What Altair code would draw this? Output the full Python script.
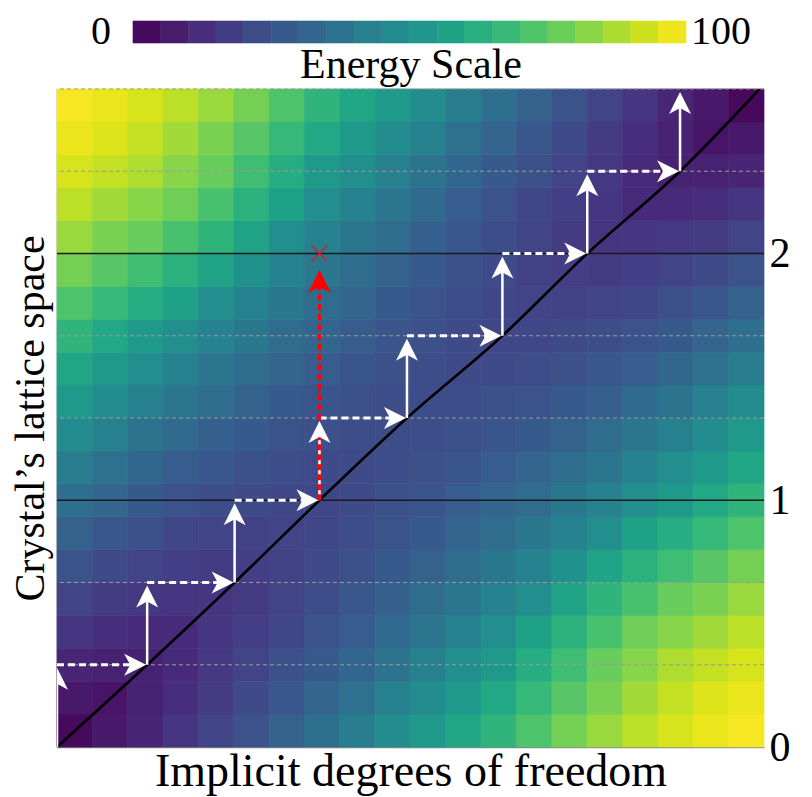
import altair as alt
import pandas as pd

# ---------------- data ----------------
L = 8 / 3  # both axes run from 0 to 8/3
levels = [0, 1/3, 2/3, 1, 4/3, 5/3, 2, 7/3, 8/3]              # y of the staircase levels
curve_x = [0.0, 0.34, 0.67, 0.99, 1.32, 1.68, 2.0, 2.35, 2.65]  # x where the black curve meets each level
minor_levels = [1/3, 2/3, 4/3, 5/3, 7/3, 8/3]                  # grey dashed lines
major_levels = [1, 2]                                          # black solid lines
right_ticks = [0, 1, 2]
red_step = 3                                                   # index of the red (failed) jump: from level 1 to 2
cbar_edges = [0, 5, 10, 15, 20, 25, 30, 35, 40, 45, 50, 55, 60, 65, 70, 75, 80, 85, 90, 95, 100]

# energy field, 20 x 20 cells, first row = bottom of the plot
energy_rows = [
    [2, 6, 10, 15, 20, 25, 31, 36, 42, 48, 54, 59, 65, 72, 79, 85, 90, 94, 97, 99],
    [6, 5, 9, 13, 17, 22, 27, 32, 37, 43, 48, 54, 60, 67, 74, 80, 86, 91, 95, 97],
    [10, 9, 9, 12, 16, 20, 24, 28, 33, 38, 43, 49, 54, 62, 69, 77, 82, 88, 91, 94],
    [15, 13, 12, 12, 15, 18, 21, 25, 29, 34, 39, 44, 49, 57, 64, 71, 78, 82, 86, 90],
    [20, 17, 16, 15, 15, 17, 20, 23, 27, 30, 35, 39, 44, 49, 58, 65, 71, 77, 80, 85],
    [25, 22, 20, 18, 17, 18, 19, 22, 24, 28, 31, 35, 40, 44, 50, 58, 64, 69, 74, 79],
    [31, 27, 24, 21, 20, 19, 20, 21, 23, 25, 28, 32, 35, 40, 44, 49, 57, 62, 67, 72],
    [36, 32, 28, 25, 23, 22, 21, 21, 22, 24, 26, 29, 32, 35, 40, 44, 49, 54, 60, 65],
    [42, 37, 33, 29, 27, 24, 23, 22, 22, 23, 24, 26, 29, 32, 35, 39, 44, 49, 54, 59],
    [48, 43, 38, 34, 30, 28, 25, 24, 23, 23, 23, 24, 26, 28, 31, 35, 39, 43, 48, 54],
    [54, 48, 43, 39, 35, 31, 28, 26, 24, 23, 23, 23, 24, 25, 28, 30, 34, 38, 43, 48],
    [59, 54, 49, 44, 39, 35, 32, 29, 26, 24, 23, 22, 22, 23, 24, 27, 29, 33, 37, 42],
    [65, 60, 54, 49, 44, 40, 35, 32, 29, 26, 24, 22, 21, 21, 22, 23, 25, 28, 32, 36],
    [72, 67, 62, 57, 49, 44, 40, 35, 32, 28, 25, 23, 21, 20, 19, 20, 21, 24, 27, 31],
    [79, 74, 69, 64, 58, 50, 44, 40, 35, 31, 28, 24, 22, 19, 18, 17, 18, 20, 22, 25],
    [85, 80, 77, 71, 65, 58, 49, 44, 39, 35, 30, 27, 23, 20, 17, 15, 15, 16, 17, 20],
    [90, 86, 82, 78, 71, 64, 57, 49, 44, 39, 34, 29, 25, 21, 18, 15, 12, 12, 13, 15],
    [94, 91, 88, 82, 77, 69, 62, 54, 49, 43, 38, 33, 28, 24, 20, 16, 12, 9, 9, 10],
    [97, 95, 91, 86, 80, 74, 67, 60, 54, 48, 43, 37, 32, 27, 22, 17, 13, 9, 5, 6],
    [99, 97, 94, 90, 85, 79, 72, 65, 59, 54, 48, 42, 36, 31, 25, 20, 15, 10, 6, 2],
]

# ---------------- tables ----------------
n = len(energy_rows)
cell = L / n
heat_df = pd.DataFrame([
    {"x0": i * cell, "x1": (i + 1) * cell, "y0": j * cell, "y1": (j + 1) * cell, "e": v}
    for j, row in enumerate(energy_rows) for i, v in enumerate(row)
])
curve_df = pd.DataFrame({"cx": curve_x, "cy": levels})
vert_df = pd.DataFrame({"x": curve_x[:-1], "y": levels[:-1], "y2": levels[1:]})
horiz_df = pd.DataFrame({"x": curve_x[:-2], "x2": curve_x[1:-1], "y": levels[1:-1]})
minor_df = pd.DataFrame({"level": minor_levels})
major_df = pd.DataFrame({"level": major_levels})
red_df = pd.DataFrame({"x": [curve_x[red_step]], "y": [levels[red_step]], "y2": [major_levels[1]]})
cb_df = pd.DataFrame({"lo": cbar_edges[:-1], "hi": cbar_edges[1:]})
cb_df["mid"] = (cb_df["lo"] + cb_df["hi"]) / 2

FONT = "Liberation Serif"
FS = 42
ARROW = "M0,-1 L1,1 L0,0.45 L-1,1 Z"
XMARK = "M-1,-1 L1,1 M1,-1 L-1,1"

xs = alt.Scale(domain=[0, L], nice=False, zero=False)
ys = alt.Scale(domain=[0, L], nice=False, zero=False)
cs = alt.Scale(scheme="viridis", domain=[0, 100])

W, H = 707, 658

heat = alt.Chart(heat_df).mark_rect(strokeWidth=0.7).encode(
    x=alt.X("x0:Q", scale=xs, axis=alt.Axis(
        title="Implicit degrees of freedom", labels=False, ticks=False, grid=False,
        domainColor="#888888", domainWidth=1.5, titleFont=FONT, titleFontSize=46,
        titleFontWeight="normal", titleColor="black", titlePadding=2)),
    x2="x1:Q",
    y=alt.Y("y0:Q", scale=ys, axis=alt.Axis(
        title="Crystal’s lattice space", labels=False, ticks=False, grid=False,
        domainColor="#888888", domainWidth=1.5, titleFont=FONT, titleFontSize=FS,
        titleFontWeight="normal", titleColor="black", titlePadding=5)),
    y2="y1:Q",
    color=alt.Color("e:Q", scale=cs, legend=None),
    stroke=alt.Stroke("e:Q", scale=cs, legend=None),
)

minor = alt.Chart(minor_df).mark_rule(color="#9a9a9a", strokeWidth=1.2, strokeDash=[4, 3]).encode(
    y=alt.Y("level:Q", scale=ys, axis=None))

major = alt.Chart(major_df).mark_rule(color="#1a1a1a", strokeWidth=1.6).encode(
    y=alt.Y("level:Q", scale=ys, axis=alt.Axis(
        orient="right", values=right_ticks, format="d", ticks=False, domain=False, grid=False,
        labelFont=FONT, labelFontSize=FS, labelColor="black", labelPadding=5, title=None)))

curve = alt.Chart(curve_df).mark_line(color="black", strokeWidth=2.6, interpolate="monotone", clip=True).encode(
    x=alt.X("cx:Q", scale=xs, axis=None), y=alt.Y("cy:Q", scale=ys, axis=None), order="cy:Q")

vshaft = alt.Chart(vert_df).mark_rule(color="white", strokeWidth=2.5, y2Offset=10, clip=True).encode(
    x=alt.X("x:Q", scale=xs, axis=None), y=alt.Y("y:Q", scale=ys, axis=None), y2="y2:Q")

hshaft = alt.Chart(horiz_df).mark_rule(color="white", strokeWidth=3, strokeDash=[7, 4], x2Offset=-10, clip=True).encode(
    x=alt.X("x:Q", scale=xs, axis=None), x2="x2:Q", y=alt.Y("y:Q", scale=ys, axis=None))

red_line = alt.Chart(red_df).mark_rule(color="#ff0000", strokeWidth=3, strokeDash=[6, 4], y2Offset=28).encode(
    x=alt.X("x:Q", scale=xs, axis=None), y=alt.Y("y:Q", scale=ys, axis=None), y2="y2:Q")

vhead = alt.Chart(vert_df).mark_point(shape=ARROW, size=484, filled=True, color="white", opacity=1,
                                       strokeWidth=0, yOffset=14, clip=True).encode(
    x=alt.X("x:Q", scale=xs, axis=None), y=alt.Y("y2:Q", scale=ys, axis=None))

hhead = alt.Chart(horiz_df).mark_point(shape=ARROW, size=484, angle=90, filled=True, color="white", opacity=1,
                                        strokeWidth=0, xOffset=-12, clip=True).encode(
    x=alt.X("x2:Q", scale=xs, axis=None), y=alt.Y("y:Q", scale=ys, axis=None))

red_head = alt.Chart(red_df).mark_point(shape=ARROW, size=529, filled=True, color="#ff0000", opacity=1,
                                         strokeWidth=0, yOffset=28).encode(
    x=alt.X("x:Q", scale=xs, axis=None), y=alt.Y("y2:Q", scale=ys, axis=None))

red_x = alt.Chart(red_df).mark_point(shape=XMARK, size=256, filled=False, color="#e01b1b", opacity=1,
                                      strokeWidth=1.4).encode(
    x=alt.X("x:Q", scale=xs, axis=None), y=alt.Y("y2:Q", scale=ys, axis=None))

main = alt.layer(
    heat, minor, major, curve, vshaft, hshaft, red_line, vhead, hhead, red_head, red_x
).resolve_axis(x="independent", y="independent").properties(width=W, height=H)

# ---------------- colour bar ----------------
cbx = alt.Scale(domain=[-13.74, 114.1], nice=False, zero=False)
BAR_H = 22
cb_rect = alt.Chart(cb_df).mark_rect(strokeWidth=0.6).encode(
    x=alt.X("lo:Q", scale=cbx, axis=alt.Axis(
        title="Energy Scale", labels=False, ticks=False, domain=False, grid=False,
        titleFont=FONT, titleFontSize=FS, titleFontWeight="normal", titleColor="black", titlePadding=1)),
    x2="hi:Q",
    y=alt.value(0), y2=alt.value(BAR_H),
    color=alt.Color("mid:Q", scale=cs, legend=None),
    stroke=alt.Stroke("mid:Q", scale=cs, legend=None),
)
lo_df = pd.DataFrame({"v": [cbar_edges[0]], "t": [str(cbar_edges[0])]})
hi_df = pd.DataFrame({"v": [cbar_edges[-1]], "t": [str(cbar_edges[-1])]})
cb_lo = alt.Chart(lo_df).mark_text(align="right", baseline="middle", dx=-22, font=FONT, fontSize=40, color="black").encode(
    x=alt.X("v:Q", scale=cbx, axis=None), y=alt.value(BAR_H / 2), text="t:N")
cb_hi = alt.Chart(hi_df).mark_text(align="left", baseline="middle", dx=5, font=FONT, fontSize=40, color="black").encode(
    x=alt.X("v:Q", scale=cbx, axis=None), y=alt.value(BAR_H / 2), text="t:N")
cbar = alt.layer(cb_rect, cb_lo, cb_hi).resolve_axis(x="independent").properties(width=W, height=BAR_H)

chart = alt.vconcat(cbar, main, spacing=46, bounds="flush").properties(
    padding={"left": 1, "top": 4, "right": 5, "bottom": 2}, background="white"
).configure_view(strokeWidth=0)

chart.save("out.html", embed_options={"renderer": "svg", "actions": False})
